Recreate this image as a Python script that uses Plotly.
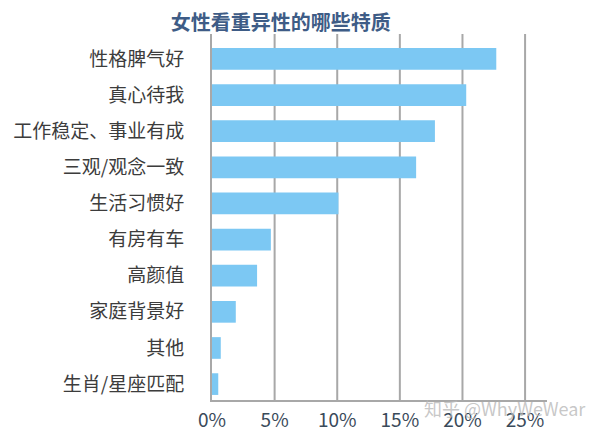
import plotly.graph_objects as go

title = "女性看重异性的哪些特质"
categories = ["性格脾气好", "真心待我", "工作稳定、事业有成", "三观/观念一致", "生活习惯好",
              "有房有车", "高颜值", "家庭背景好", "其他", "生肖/星座匹配"]
values = [22.7, 20.3, 17.8, 16.3, 10.1, 4.7, 3.6, 1.9, 0.7, 0.5]
tick_vals = [0, 5, 10, 15, 20, 25]
tick_text = ["0%", "5%", "10%", "15%", "20%", "25%"]
watermark = "知乎 @WhyWeWear"

cats_rev = categories[::-1]
vals_rev = values[::-1]

FONT = "Noto Sans CJK SC"
GRID = "#a8a8a8"

fig = go.Figure()
fig.add_trace(go.Bar(
    x=vals_rev, y=cats_rev, orientation="h",
    marker=dict(color="#7cc8f3", line=dict(width=0)),
    width=0.6,
))

# vertical gridlines only up to 25%
for t in tick_vals[1:]:
    fig.add_shape(type="line", xref="x", yref="paper", x0=t, x1=t, y0=0, y1=1,
                  line=dict(color=GRID, width=2), layer="below")

L, R, T, B = 212, 53, 34, 37
fig.update_layout(
    width=600, height=437,
    margin=dict(l=L, r=R, t=T, b=B),
    paper_bgcolor="white", plot_bgcolor="white",
    showlegend=False,
    font=dict(family=FONT, color="#3c3c3c"),
    title=dict(text="<b>" + title + "</b>", x=0.468, xref="container", xanchor="center",
               y=1 - 23 / 437, yref="container", yanchor="middle",
               font=dict(family=FONT, size=20, color="#3e5c86")),
    xaxis=dict(range=[0, 26.75], tickvals=tick_vals, ticktext=tick_text, automargin=False,
               showgrid=False, zeroline=False, showline=True, linecolor=GRID, linewidth=2,
               ticks="", tickfont=dict(family=FONT, size=19, color="#3a4a5a"), ticklabelstandoff=2),
    yaxis=dict(type="category", categoryorder="array", categoryarray=cats_rev, automargin=False,
               range=[-0.44, 9.69], showgrid=False, zeroline=False,
               showline=True, linecolor=GRID, linewidth=2, ticks="",
               tickfont=dict(family=FONT, size=19, color="#3c3c3c"), ticklabelstandoff=22),
    annotations=[dict(text=watermark,
                      x=(505 - L) / (600 - L - R), y=(437 - B - 408) / (437 - T - B),
                      xref="paper", yref="paper", xanchor="center", yanchor="middle",
                      showarrow=False, font=dict(family=FONT, size=18, color="rgba(185,185,185,0.8)"))],
)

fig.write_html("out.html")
